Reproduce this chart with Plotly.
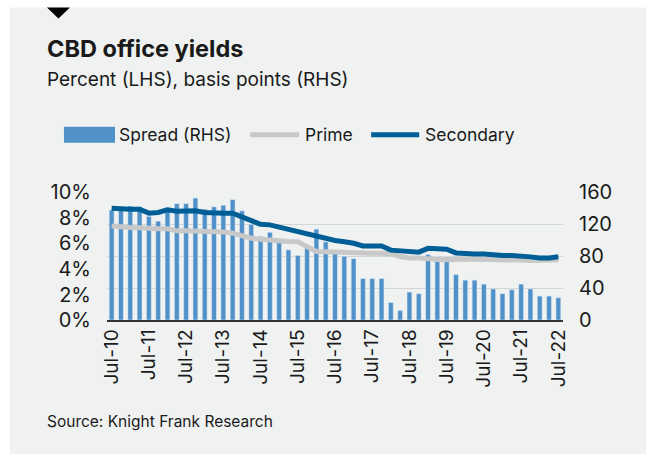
import plotly.graph_objects as go

quarters = [
    "Jul-10", "Oct-10", "Jan-11", "Apr-11", "Jul-11", "Oct-11", "Jan-12", "Apr-12",
    "Jul-12", "Oct-12", "Jan-13", "Apr-13", "Jul-13", "Oct-13", "Jan-14", "Apr-14",
    "Jul-14", "Oct-14", "Jan-15", "Apr-15", "Jul-15", "Oct-15", "Jan-16", "Apr-16",
    "Jul-16", "Oct-16", "Jan-17", "Apr-17", "Jul-17", "Oct-17", "Jan-18", "Apr-18",
    "Jul-18", "Oct-18", "Jan-19", "Apr-19", "Jul-19", "Oct-19", "Jan-20", "Apr-20",
    "Jul-20", "Oct-20", "Jan-21", "Apr-21", "Jul-21", "Oct-21", "Jan-22", "Apr-22",
    "Jul-22",
]
tick_labels = ["Jul-10", "Jul-11", "Jul-12", "Jul-13", "Jul-14", "Jul-15", "Jul-16",
               "Jul-17", "Jul-18", "Jul-19", "Jul-20", "Jul-21", "Jul-22"]
left_ticks = [0, 2, 4, 6, 8, 10]
left_tick_text = ["0%", "2%", "4%", "6%", "8%", "10%"]
right_ticks = [0, 40, 80, 120, 160]

spread_bp = [138, 138, 143, 142, 130, 124, 141, 146, 146, 153, 139, 142, 144, 151, 137, 120,
             105, 110, 97, 88, 81, 90, 114, 98, 85, 80, 77, 52, 52, 52, 22, 12,
             35, 33, 82, 79, 79, 57, 50, 50, 45, 39, 33, 38, 45, 39, 30, 30, 28]
prime_pct = [7.38, 7.28, 7.26, 7.23, 7.17, 7.15, 7.15, 6.99, 6.99, 6.99, 6.96, 6.93, 6.91,
             6.81, 6.60, 6.41, 6.34, 6.26, 6.20, 6.15, 6.13, 5.76, 5.37, 5.35, 5.31, 5.29,
             5.27, 5.24, 5.24, 5.24, 5.20, 4.98, 4.86, 4.86, 4.78, 4.75, 4.72, 4.78, 4.76,
             4.76, 4.76, 4.74, 4.72, 4.72, 4.70, 4.66, 4.65, 4.65, 4.72]
secondary_pct = [8.77, 8.69, 8.69, 8.69, 8.38, 8.43, 8.64, 8.53, 8.53, 8.56, 8.43, 8.38, 8.38,
                 8.38, 8.10, 7.75, 7.50, 7.46, 7.28, 7.07, 6.99, 6.78, 6.54, 6.39, 6.23, 6.13,
                 6.02, 5.81, 5.81, 5.81, 5.48, 5.40, 5.32, 5.32, 5.62, 5.58, 5.55, 5.26, 5.18,
                 5.18, 5.18, 5.10, 5.05, 5.05, 5.03, 4.95, 4.86, 4.86, 4.96]

BAR = "#4f91c8"
PRIME = "#c8c8c8"
SEC = "#005e96"
BG = "#eff2f1"
TXT = "#1a1a1a"
GRID = "#d2d5d5"
FONT = "Inter"

W, H = 646, 454
PL, PR, PT, PB = 107, 562.7, 192.2, 320.0
RMAX = 160.6          # right axis top (bp), keeps the 160 gridline inside the plot
LMAX = RMAX / 16.0    # matching left axis top (%)


def X(px):
    return (px - PL) / (PR - PL)


def Y(py):
    return (PB - py) / (PB - PT)


fig = go.Figure()
fig.add_trace(go.Bar(x=quarters, y=spread_bp, name="Spread (RHS)", marker_color=BAR,
                     width=0.52, yaxis="y", showlegend=False))
fig.add_trace(go.Scatter(x=quarters, y=prime_pct, name="Prime", mode="lines",
                         line=dict(color=PRIME, width=5), yaxis="y2", showlegend=False))
fig.add_trace(go.Scatter(x=quarters, y=secondary_pct, name="Secondary", mode="lines",
                         line=dict(color=SEC, width=5), yaxis="y2", showlegend=False))

shapes = [
    dict(type="rect", xref="paper", yref="paper", x0=X(0), x1=X(10), y0=Y(H), y1=Y(0),
         fillcolor="white", line_width=0, layer="below"),
    dict(type="rect", xref="paper", yref="paper", x0=X(0), x1=X(W), y0=Y(8), y1=Y(0),
         fillcolor="white", line_width=0, layer="below"),
    dict(type="path", xref="paper", yref="paper",
         path=f"M {X(47)} {Y(8)} L {X(70)} {Y(8)} L {X(58.5)} {Y(19)} Z",
         fillcolor="black", line_width=0),
    # legend swatches
    dict(type="rect", xref="paper", yref="paper", x0=X(64), x1=X(115), y0=Y(143), y1=Y(127),
         fillcolor=BAR, line_width=0),
    dict(type="line", xref="paper", yref="paper", x0=X(250), x1=X(299), y0=Y(135), y1=Y(135),
         line=dict(color=PRIME, width=5)),
    dict(type="line", xref="paper", yref="paper", x0=X(371), x1=X(419), y0=Y(135), y1=Y(135),
         line=dict(color=SEC, width=5)),
]

annotations = [
    dict(text="<b>CBD office yields</b>", x=X(45), y=Y(49), xref="paper", yref="paper",
         xanchor="left", yanchor="middle", showarrow=False,
         font=dict(family=FONT, size=23.5, color=TXT)),
    dict(text="Percent (LHS), basis points (RHS)", x=X(45), y=Y(80), xref="paper", yref="paper",
         xanchor="left", yanchor="middle", showarrow=False,
         font=dict(family=FONT, size=19, color=TXT)),
    dict(text="Spread (RHS)", x=X(117), y=Y(135), xref="paper", yref="paper",
         xanchor="left", yanchor="middle", showarrow=False,
         font=dict(family=FONT, size=17.5, color=TXT)),
    dict(text="Prime", x=X(303), y=Y(135), xref="paper", yref="paper",
         xanchor="left", yanchor="middle", showarrow=False,
         font=dict(family=FONT, size=17.5, color=TXT)),
    dict(text="Secondary", x=X(423), y=Y(135), xref="paper", yref="paper",
         xanchor="left", yanchor="middle", showarrow=False,
         font=dict(family=FONT, size=17.5, color=TXT)),
    dict(text="Source: Knight Frank Research", x=X(45), y=Y(421), xref="paper", yref="paper",
         xanchor="left", yanchor="middle", showarrow=False,
         font=dict(family=FONT, size=15.5, color=TXT)),
]

fig.update_layout(
    width=W, height=H,
    margin=dict(l=PL, r=W - PR, t=PT, b=H - PB, pad=0),
    paper_bgcolor=BG, plot_bgcolor=BG,
    font=dict(family=FONT, color=TXT),
    showlegend=False,
    shapes=shapes,
    annotations=annotations,
    xaxis=dict(type="category", tickmode="array", tickvals=tick_labels, ticktext=tick_labels,
               tickangle=-90, ticks="", showgrid=False, showline=True, linecolor="#333333",
               linewidth=1.5, tickfont=dict(family=FONT, size=19, color=TXT),
               range=[-0.5, len(quarters) - 0.5]),
    yaxis=dict(side="right", range=[0, RMAX], tickmode="array", tickvals=right_ticks,
               ticktext=[str(v) for v in right_ticks],
               showgrid=True, gridcolor=GRID, gridwidth=1, zeroline=False,
               showline=False, ticks="", ticklabelstandoff=15,
               tickfont=dict(family=FONT, size=20, color=TXT)),
    yaxis2=dict(side="left", overlaying="y", range=[0, LMAX], tickmode="array",
                tickvals=left_ticks, ticktext=left_tick_text,
                showgrid=False, zeroline=False, showline=False, ticks="",
                ticklabelstandoff=15, tickfont=dict(family=FONT, size=20, color=TXT)),
)

fig.write_html("out.html")
